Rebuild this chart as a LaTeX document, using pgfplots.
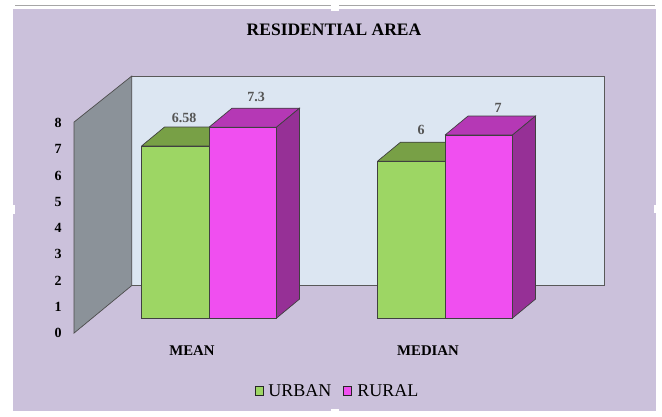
\documentclass[border=0pt]{standalone}
\usepackage{pgfplots}
\usepackage{fontspec}
\setmainfont{Liberation Serif}
\pgfplotsset{compat=1.18}
\definecolor{panel}{HTML}{CBC1DB}
\definecolor{backwall}{HTML}{DCE6F2}
\definecolor{sidewall}{HTML}{8B9299}
\definecolor{urbanfront}{HTML}{9DD664}
\definecolor{urbantop}{HTML}{78A046}
\definecolor{ruralfront}{HTML}{F04FF0}
\definecolor{ruraltop}{HTML}{B538B5}
\definecolor{ruralside}{HTML}{963096}
\definecolor{valuetext}{HTML}{555555}
\begin{document}
\begin{tikzpicture}[x=1pt,y=1pt]
% page, panel and its small corner tabs
\path[fill=white] (0,0) rectangle (662,416);
\fill[panel] (13,5) rectangle (656,407);
\fill[white] (331,405) rectangle (339,416);
\fill[white] (331,0) rectangle (339,7);
\fill[white] (10,202) rectangle (15,211);
\fill[white] (654,203) rectangle (660,211);
\draw[gray!70,line width=1pt] (15,411) -- (331,411) (339,411) -- (655,411);
% chart walls
\fill[backwall] (131.7,130.5) rectangle (604,340);
\draw[gray!70!black,line width=1.6pt] (131.7,130.5) -- (604,130.5);
\draw[black!65,line width=0.9pt] (131.7,340) -- (604,340) -- (604,130.5);
\filldraw[fill=sidewall,draw=black!70,line width=0.7pt] (74,83) -- (131.7,130.5) -- (131.7,340) -- (74,294) -- cycle;
% value scale on the side wall
\begin{axis}[
  at={(74pt,83pt)},anchor=origin,scale only axis,width=1pt,height=210pt,
  xmin=0,xmax=1,ymin=0,ymax=8,
  axis line style={draw=none},major tick length=0pt,
  xtick=\empty,ytick={0,1,2,3,4,5,6,7,8},
  /pgf/number format/assume math mode=true,
  yticklabel style={anchor=center,xshift=-16pt,font=\fontsize{14}{16}\selectfont\bfseries},
]
\end{axis}
% bars
\begin{axis}[
  at={(0pt,0pt)},anchor=south west,scale only axis,width=662pt,height=416pt,
  xmin=-0.8856,xmax=1.9195,ymin=-3.7476,ymax=12.1606,
  clip=false,
  /pgf/number format/assume math mode=true,
  axis line style={draw=none},major tick length=0pt,
  xtick={0,1},xticklabels={MEAN,MEDIAN},ytick=\empty,
  xticklabel style={anchor=center,xshift=-17pt,yshift=65.5pt,font=\fontsize{14.8}{16}\selectfont\bfseries},
  title={\fontsize{17.5}{20}\selectfont\bfseries RESIDENTIAL AREA},
  title style={at={(334/662,380/416)},anchor=center,yshift=0pt},
  legend style={at={(337.5/662,25/416)},anchor=center,draw=none,fill=none,legend columns=2,
    font=\fontsize{18}{20}\selectfont,/tikz/every even column/.append style={column sep=10pt}},
  legend image code/.code={\draw[#1,draw=black!85,line width=1pt] (0pt,-4.5pt) rectangle (8pt,4.5pt);\path (11pt,0pt);},
  every node near coord/.append style={font=\fontsize{14}{16}\selectfont\bfseries,text=valuetext,anchor=center},
]
% MEAN group: urban
\addplot[forget plot,fill=urbantop,draw=black!75,line width=0.7pt] coordinates {(-0.286,6.58) (0,6.58) (0.0975,7.3066) (-0.1885,7.3066) (-0.286,6.58)};
\addplot[ybar,bar width=67.5pt,bar shift=-33.75pt,fill=urbanfront,draw=black!75,line width=0.9pt,
  nodes near coords,every node near coord/.append style={xshift=-25pt,yshift=28pt}] coordinates {(0,6.58)};
\addlegendentry{URBAN}
% MEAN group: rural
\addplot[forget plot,fill=ruraltop,draw=black!75,line width=0.7pt] coordinates {(0,7.3) (0.286,7.3) (0.3835,8.0266) (0.0975,8.0266) (0,7.3)};
\addplot[forget plot,fill=ruralside,draw=black!75,line width=0.7pt] coordinates {(0.286,0) (0.3835,0.7266) (0.3835,8.0266) (0.286,7.3) (0.286,0)};
\addplot[ybar,bar width=67.5pt,bar shift=33.75pt,fill=ruralfront,draw=black!75,line width=0.9pt,
  nodes near coords,every node near coord/.append style={xshift=47pt,yshift=30pt}] coordinates {(0,7.3)};
\addlegendentry{RURAL}
% MEDIAN group: urban
\addplot[forget plot,fill=urbantop,draw=black!75,line width=0.7pt] coordinates {(0.714,6) (1,6) (1.0975,6.7266) (0.8115,6.7266) (0.714,6)};
\addplot[forget plot,ybar,bar width=67.5pt,bar shift=-33.75pt,fill=urbanfront,draw=black!75,line width=0.9pt,
  nodes near coords,every node near coord/.append style={xshift=-24pt,yshift=31pt}] coordinates {(1,6)};
% MEDIAN group: rural
\addplot[forget plot,fill=ruraltop,draw=black!75,line width=0.7pt] coordinates {(1,7) (1.286,7) (1.3835,7.7266) (1.0975,7.7266) (1,7)};
\addplot[forget plot,fill=ruralside,draw=black!75,line width=0.7pt] coordinates {(1.286,0) (1.3835,0.7266) (1.3835,7.7266) (1.286,7) (1.286,0)};
\addplot[forget plot,ybar,bar width=67.5pt,bar shift=33.75pt,fill=ruralfront,draw=black!75,line width=0.9pt,
  nodes near coords,every node near coord/.append style={xshift=53pt,yshift=27pt}] coordinates {(1,7)};
\end{axis}
\end{tikzpicture}
\end{document}
